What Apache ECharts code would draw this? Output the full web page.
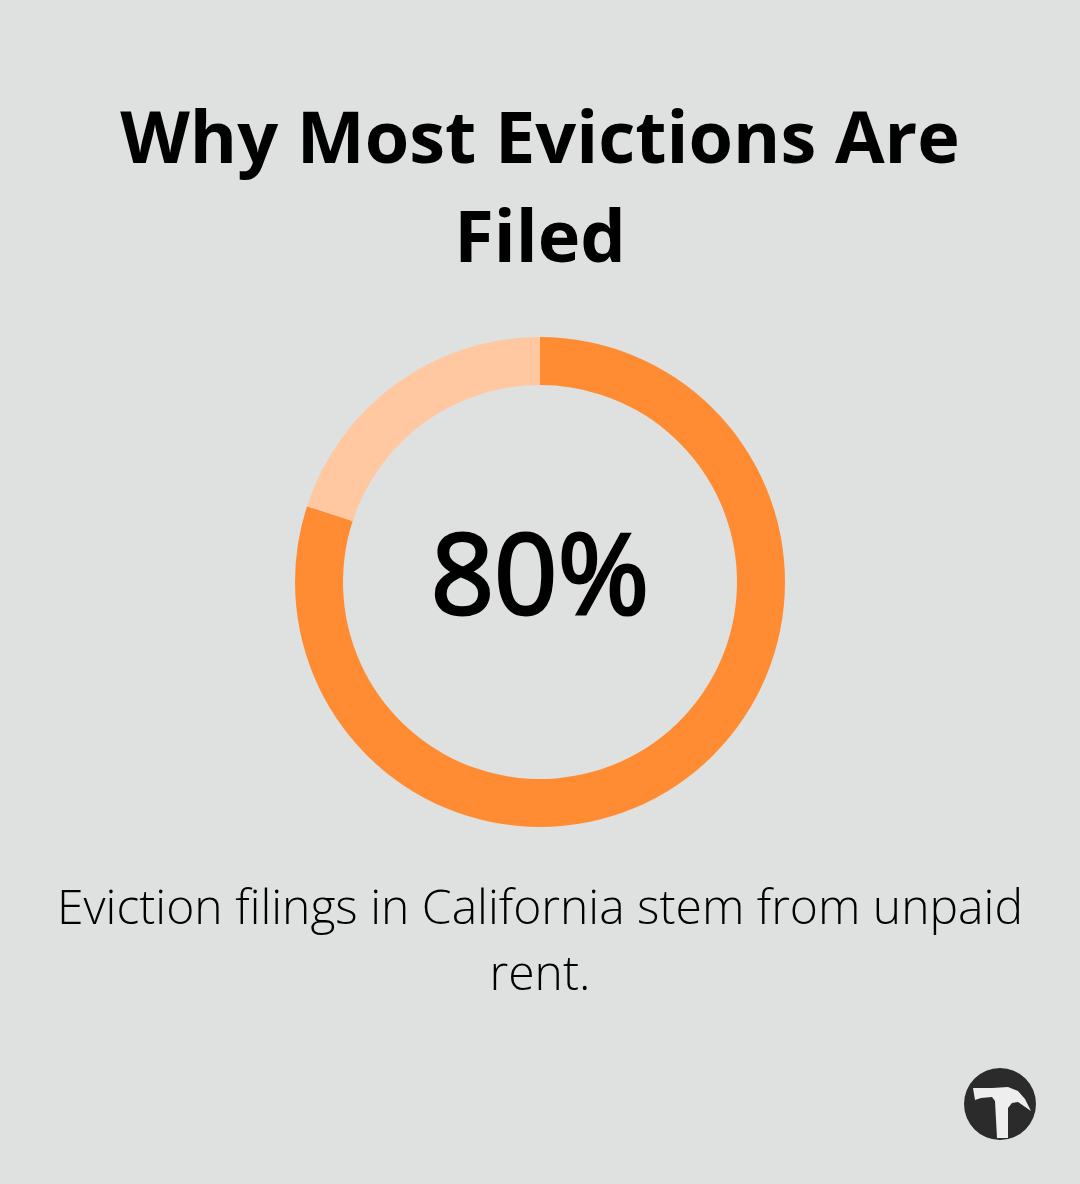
<!DOCTYPE html>
<html>
<head>
<meta charset="UTF-8">
<script src="https://cdn.jsdelivr.net/npm/echarts@6/dist/echarts.min.js"></script>
<style>
    html, body { margin: 0; padding: 0; background: #dfe1e0; }
    #main { width: 1080px; height: 1184px; }
</style>
</head>
<body>
<div id="main"></div>
<script>
    var titleLines = ['Why Most Evictions Are', 'Filed'];
    var captionLines = ['Eviction filings in California stem from unpaid', 'rent.'];
    var sliceNames = ['Unpaid rent', 'Other'];
    var sliceValues = [80, 20];
    var sliceColors = ['#ff8c33', '#ffc8a0'];
    var centerLabel = '80%';

    var mychart = echarts.init(document.getElementById('main'));
    var pieData = [];
    sliceNames.forEach(function (name, i) {
        pieData.push({ name: name, value: sliceValues[i], itemStyle: { color: sliceColors[i] } });
    });

    var fontName = '"Open Sans", "Noto Sans", sans-serif';

    function textRow(text, y, size, weight, border) {
        return {
            text: text, left: 540, top: y, padding: 0, textAlign: 'center', textVerticalAlign: 'middle',
            textStyle: {
                fontFamily: fontName, fontSize: size, fontWeight: weight, color: '#000',
                textBorderColor: '#000', textBorderWidth: border || 0
            }
        };
    }

    var option = {
        backgroundColor: '#dfe1e0',
        animation: false,
        title: [
            textRow(titleLines[0], 142, 72, 700),
            textRow(titleLines[1], 241, 72, 700),
            textRow(captionLines[0], 910, 48, 300),
            textRow(captionLines[1], 976, 48, 300),
            // no medium face installed, regular plus a thin outline comes closest
            textRow(centerLabel, 582, 111, 400, 3)
        ],
        // small hammer badge in the corner
        graphic: [
            { type: 'circle', shape: { cx: 1000, cy: 1104, r: 36 }, style: { fill: '#2b2b2b' }, silent: true },
            {
                type: 'polygon', silent: true,
                shape: { points: [[973, 1088], [992, 1088], [1008, 1087], [1018, 1091], [1025, 1099], [1031, 1111],
                    [1018, 1102], [1012, 1103], [1008, 1108], [1008, 1138], [997, 1138], [995, 1101], [992, 1097],
                    [981, 1098], [975, 1100]] },
                style: { fill: '#eeeeee' }
            }
        ],
        series: [
            {
                type: 'pie',
                center: [540, 582],
                radius: [197, 245],
                startAngle: 90,
                clockwise: true,
                silent: true,
                label: { show: false },
                labelLine: { show: false },
                data: pieData
            }
        ]
    };
    mychart.setOption(option);
</script>
</body>
</html>
